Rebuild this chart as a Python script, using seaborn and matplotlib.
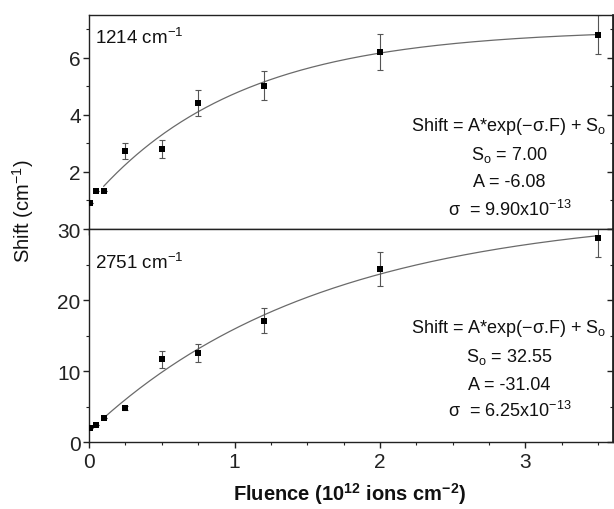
import numpy as np
import pandas as pd
import matplotlib
matplotlib.use("Agg")
import matplotlib.pyplot as plt
import seaborn as sns
from matplotlib.ticker import MultipleLocator

# ---- data ----
fluence = [0.01, 0.05, 0.1, 0.25, 0.5, 0.75, 1.2, 2.0, 3.5]
shift_1214 = [0.92, 1.33, 1.33, 2.73, 2.80, 4.41, 5.01, 6.21, 6.81]
err_1214 = [0.0, 0.0, 0.0, 0.28, 0.30, 0.44, 0.51, 0.63, 0.67]
shift_2751 = [2.03, 2.41, 3.40, 4.82, 11.7, 12.5, 17.1, 24.35, 28.8]
err_2751 = [0.0, 0.0, 0.0, 0.3, 1.2, 1.25, 1.75, 2.4, 2.7]

# fit parameters shown on chart
fit_1214 = dict(S0=7.00, A=-6.08, sigma=0.990)   # sigma scaled to F in 1e12 ions/cm^2
fit_2751 = dict(S0=32.55, A=-31.04, sigma=0.625)
fit_range = (0.1, 3.5)

labels_panel = ["1214 cm$^{-1}$", "2751 cm$^{-1}$"]
fit_text_1214 = ["Shift = A*exp(\u2212\u03c3.F) + S$_\\mathregular{o}$", "S$_\\mathregular{o}$ = 7.00", "A = -6.08", "\u03c3  = 9.90x10$^{\\mathregular{-13}}$"]
fit_text_2751 = ["Shift = A*exp(\u2212\u03c3.F) + S$_\\mathregular{o}$", "S$_\\mathregular{o}$ = 32.55", "A = -31.04", "\u03c3  = 6.25x10$^{\\mathregular{-13}}$"]

sns.set_theme(style="ticks")
plt.rcParams['font.family'] = ['Liberation Sans', 'DejaVu Sans']
plt.rcParams['mathtext.fontset'] = 'custom'
plt.rcParams['mathtext.rm'] = 'Liberation Sans'
plt.rcParams['mathtext.it'] = 'Liberation Sans'
plt.rcParams['mathtext.bf'] = 'Liberation Sans:bold'

fig = plt.figure(figsize=(6.14, 5.10), dpi=100)
ax_top = fig.add_axes([0.145, 0.549, 0.853, 0.420])
ax_bot = fig.add_axes([0.145, 0.131, 0.853, 0.418])

def draw(ax, y, e, fit, ylim, major, minor, label, label_y, texts, text_y):
    df = pd.DataFrame({"F": fluence, "S": y, "E": e})
    ax.errorbar(df["F"], df["S"], yerr=df["E"], fmt="none", ecolor="#555555",
                elinewidth=0.8, capsize=2.5, capthick=0.8, zorder=2)
    F = np.linspace(fit_range[0], fit_range[1], 300)
    fdf = pd.DataFrame({"F": F, "S": fit["S0"] + fit["A"] * np.exp(-fit["sigma"] * F)})
    sns.lineplot(data=fdf, x="F", y="S", ax=ax, color="#6a6a6a", linewidth=0.9, zorder=1)
    sns.scatterplot(data=df, x="F", y="S", ax=ax, marker="s", color="black",
                    s=24, edgecolor="black", linewidth=0, zorder=3)
    ax.set_xlim(0, 3.6)
    ax.set_ylim(*ylim)
    ax.yaxis.set_major_locator(MultipleLocator(major))
    ax.yaxis.set_minor_locator(MultipleLocator(minor))
    ax.xaxis.set_major_locator(MultipleLocator(1))
    ax.xaxis.set_minor_locator(MultipleLocator(0.25))
    ax.set_xlabel("")
    ax.set_ylabel("")
    for s in ax.spines.values():
        s.set_visible(True)
        s.set_linewidth(1.0)
        s.set_color("#222222")
    ax.tick_params(axis="y", which="both", left=True, right=False, direction="out",
                   labelsize=15, colors="#222222", pad=2)
    ax.tick_params(axis="y", which="major", length=4, width=1)
    ax.tick_params(axis="y", which="minor", length=2.5, width=0.8)
    ax.tick_params(axis="x", which="both", bottom=True, top=False, direction="out",
                   labelsize=15, colors="#222222", pad=3)
    ax.tick_params(axis="x", which="major", length=4, width=1)
    ax.tick_params(axis="x", which="minor", length=2.5, width=0.8)
    # inward ticks on the right side
    sec = ax.secondary_yaxis("right")
    sec.yaxis.set_major_locator(MultipleLocator(major))
    sec.yaxis.set_minor_locator(MultipleLocator(minor))
    sec.tick_params(which="both", direction="in", labelright=False, colors="#222222")
    sec.tick_params(which="major", length=4, width=1)
    sec.tick_params(which="minor", length=2.5, width=0.8)
    sec.spines["right"].set_color("#222222")
    ax.text(0.012, label_y, label, transform=ax.transAxes,
            fontsize=13.5, ha="left", va="center", color="#111111")
    ax.text(0.615, text_y[0], texts[0], transform=ax.transAxes, fontsize=13,
            ha="left", va="center", color="#111111")
    for t, yy in zip(texts[1:], text_y[1:]):
        ax.text(0.803, yy, t, transform=ax.transAxes, fontsize=13, ha="center",
                va="center", color="#111111")

draw(ax_top, shift_1214, err_1214, fit_1214, (0, 7.5), 2, 1, labels_panel[0], 0.897,
     fit_text_1214, [0.481, 0.350, 0.220, 0.093])
draw(ax_bot, shift_2751, err_2751, fit_2751, (0, 30), 10, 5, labels_panel[1], 0.845,
     fit_text_2751, [0.540, 0.404, 0.272, 0.150])

ax_top.tick_params(axis="x", labelbottom=False)
ax_top.set_yticks([2, 4, 6])
ax_bot.set_yticks([0, 10, 20, 30])

fig.text(0.038, 0.585, "Shift (cm$^{-1}$)", rotation=90, ha="center", va="center",
         fontsize=14.5, color="#111111")
fig.text(0.57, 0.032, "Fluence (10$^{\\mathbf{12}}$ ions cm$^{\\mathbf{-2}}$)", ha="center",
         va="center", fontsize=14.5, fontweight="bold", color="#111111")

fig.savefig("out.png", dpi=100)
